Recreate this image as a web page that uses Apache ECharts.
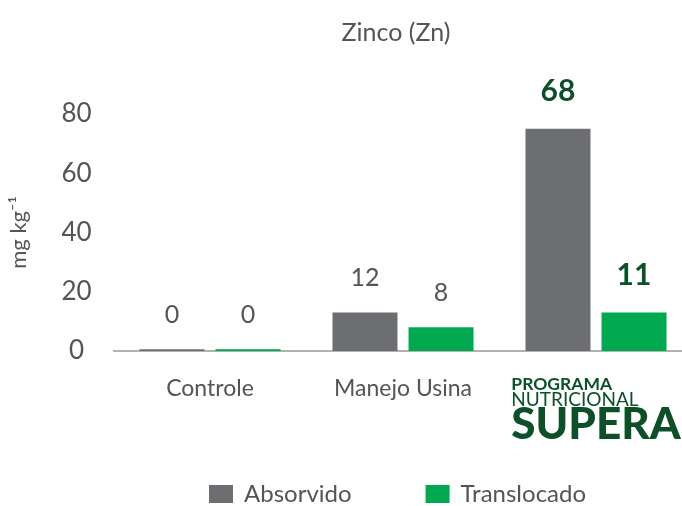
<!DOCTYPE html>
<html>
<head>
<meta charset="utf-8">
<script src="https://cdn.jsdelivr.net/npm/echarts@6/dist/echarts.min.js"></script>
<style>
  html, body { margin: 0; padding: 0; background: #fff; }
  #chart { width: 682px; height: 506px; }
</style>
</head>
<body>
<div id="chart"></div>
<script>
// categories
var categories = ['Controle', 'Manejo Usina', 'Supera'];
// bar heights as drawn
var absorvido = [0.6, 13, 75];
var translocado = [0.6, 8, 13];
// printed labels
var absorvidoLabels = ['0', '12', '68'];
var translocadoLabels = ['0', '8', '11'];
var yTicks = [0, 20, 40, 60, 80];

var FONT = 'Lato, "Open Sans", sans-serif';
var GRAY = '#6d6e71';
var GREEN = '#00a94f';
var DARK = '#0c4f28';

// last group uses the bold dark-green label style
function buildData(values, labels) {
  return values.map(function (v, i) {
    var item = { value: v, label: { formatter: labels[i] } };
    if (i === values.length - 1) {
      item.label.color = DARK;
      item.label.fontWeight = 'bold';
      item.label.fontSize = 30;
    }
    return item;
  });
}

var chart = echarts.init(document.getElementById('chart'));
chart.setOption({
  animation: false,
  title: {
    text: 'Zinco (Zn)',
    left: 391,
    top: 15,
    textAlign: 'center',
    textStyle: { fontFamily: FONT, fontSize: 25, fontWeight: 'normal', color: '#555' }
  },
  legend: {
    bottom: -5,
    left: 204,
    itemWidth: 24,
    itemHeight: 18,
    itemGap: 74,
    icon: 'rect',
    textStyle: { fontFamily: FONT, fontSize: 24, color: '#555', padding: [0, 0, 0, 6] },
    data: ['Absorvido', 'Translocado']
  },
  grid: { left: 113.5, width: 579, top: 114, bottom: 155, outerBoundsMode: 'none' },
  xAxis: {
    type: 'category',
    data: categories,
    axisLine: { lineStyle: { color: '#999', width: 1.5 } },
    axisTick: { show: false },
    axisLabel: {
      interval: 0,
      hideOverlap: false,
      margin: 26,
      fontFamily: FONT,
      fontSize: 23,
      color: '#555',
      formatter: function (v) {
        if (v === 'Supera') {
          return '{a|PROGRAMA}\n{b|NUTRICIONAL}\n{c|SUPERA}';
        }
        return v;
      },
      rich: {
        a: { fontFamily: FONT, fontSize: 17.5, fontWeight: 'bold', color: DARK, align: 'left', lineHeight: 15 },
        b: { fontFamily: FONT, fontSize: 19, color: DARK, align: 'left', lineHeight: 16 },
        c: { fontFamily: FONT, fontSize: 44, fontWeight: 900, color: DARK, align: 'left', lineHeight: 34 }
      }
    }
  },
  yAxis: {
    type: 'value',
    min: yTicks[0],
    max: yTicks[yTicks.length - 1],
    interval: yTicks[1] - yTicks[0],
    name: 'mg kg\u207B\u00B9',
    nameLocation: 'middle',
    nameGap: 84,
    nameRotate: 90,
    nameTextStyle: { fontFamily: FONT, fontSize: 22, color: '#555' },
    axisLine: { show: false },
    axisTick: { show: false },
    splitLine: { show: false },
    axisLabel: { fontFamily: FONT, fontSize: 26, color: '#555', align: 'center', margin: 37 }
  },
  series: [
    {
      name: 'Absorvido',
      type: 'bar',
      barWidth: 65,
      barGap: '17%',
      itemStyle: { color: GRAY },
      label: { show: true, position: 'top', distance: 22, fontFamily: FONT, fontSize: 25, color: '#555' },
      data: buildData(absorvido, absorvidoLabels)
    },
    {
      name: 'Translocado',
      type: 'bar',
      barWidth: 65,
      itemStyle: { color: GREEN },
      label: { show: true, position: 'top', distance: 22, fontFamily: FONT, fontSize: 25, color: '#555' },
      data: buildData(translocado, translocadoLabels)
    }
  ]
});
</script>
</body>
</html>
